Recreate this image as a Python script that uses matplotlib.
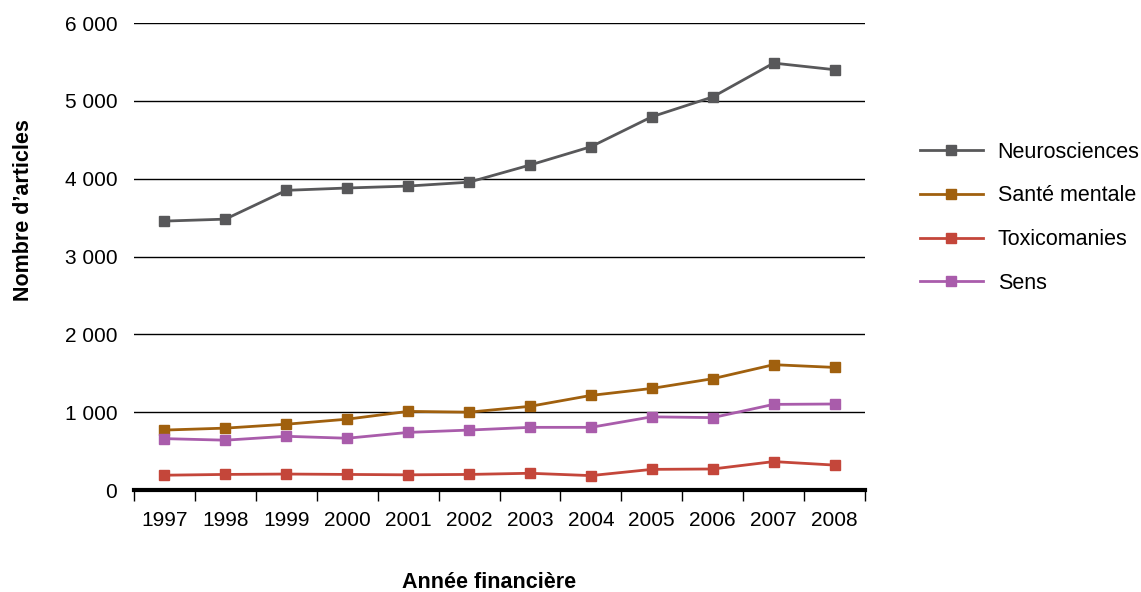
import numpy as np
from matplotlib import pyplot as plt
from matplotlib.ticker import FuncFormatter

plt.rcParams['font.family'] = ['Liberation Sans', 'DejaVu Sans']

years = ['1997', '1998', '1999', '2000', '2001', '2002',
         '2003', '2004', '2005', '2006', '2007', '2008']
neurosciences = [3455, 3480, 3850, 3880, 3905, 3955, 4175, 4410, 4795, 5050, 5485, 5400]
sante_mentale = [770, 795, 845, 910, 1010, 1000, 1075, 1215, 1305, 1430, 1610, 1575]
toxicomanies = [190, 200, 205, 200, 195, 200, 215, 185, 265, 270, 365, 320]
sens = [660, 640, 690, 665, 740, 770, 805, 805, 940, 930, 1100, 1105]

series = [
    ('Neurosciences', neurosciences, '#58585a'),
    ('Santé mentale', sante_mentale, '#a0600e'),
    ('Toxicomanies', toxicomanies, '#c4463a'),
    ('Sens', sens, '#a95cab'),
]

fig = plt.figure(figsize=(11.41, 5.92), dpi=100)
ax = fig.add_axes([134 / 1141, 1 - 490 / 592, (865 - 134) / 1141, (490 - 23) / 592])

x = np.arange(len(years))
for name, vals, col in series:
    ax.plot(x, vals, color=col, linewidth=2, marker='s', markersize=7,
            label=name, clip_on=False)

ax.set_xlim(-0.5, len(years) - 0.5)
ax.set_ylim(0, 6000)
ax.set_yticks(range(0, 6001, 1000))
ax.yaxis.set_major_formatter(FuncFormatter(lambda v, p: f'{int(v):,}'.replace(',', ' ')))
ax.grid(axis='y', color='black', linewidth=1)
ax.set_axisbelow(True)

# ticks at the category boundaries, labels centred
ax.set_xticks(np.arange(-0.5, len(years), 1.0))
ax.set_xticklabels([])
ax.set_xticks(x, minor=True)
ax.set_xticklabels(years, minor=True)
ax.tick_params(axis='x', which='major', length=8, width=1, color='black')
ax.tick_params(axis='x', which='minor', length=0, pad=15, labelsize=15)
ax.tick_params(axis='y', length=0, pad=12, labelsize=15)

for s in ['top', 'right', 'left']:
    ax.spines[s].set_visible(False)
ax.spines['bottom'].set_linewidth(3)

ax.set_ylabel("Nombre d’articles", fontsize=15.5, fontweight='bold')
ax.yaxis.set_label_coords(-0.1365, 0.6)
ax.set_xlabel('Année financière', fontsize=15.5, fontweight='bold')
ax.xaxis.set_label_coords(0.486, -0.176)

ax.legend(loc='center left', bbox_to_anchor=(1.049, 0.583), frameon=False,
          fontsize=15.5, handlelength=2.9, labelspacing=1.05, handletextpad=0.7)

plt.savefig('out.png')
